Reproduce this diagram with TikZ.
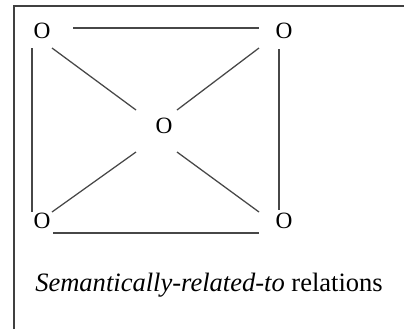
\documentclass[tikz,border=0pt]{standalone}
\usepackage{fontspec}
\setmainfont{Liberation Serif}
\usetikzlibrary{calc}
\begin{document}
\begin{tikzpicture}[x=0.75pt,y=-0.75pt,
  obj/.style={inner sep=0pt,font=\fontsize{17.5}{21}\selectfont},
  captext/.style={inner sep=0pt,font=\fontsize{19.9}{23}\selectfont},
  rel/.style={draw=black!72,line width=0.95pt},
  frameline/.style={draw=black!75,line width=1.1pt}]
\useasboundingbox[fill=white] (0,0) rectangle (404,329);
\draw[frameline] (14,329) -- (14,6) -- (404,6);
\node[obj] (tl) at (42,31) {O};
\node[obj] (tr) at (284,31) {O};
\node[obj] (c) at (164,126) {O};
\node[obj] (bl) at (42,221) {O};
\node[obj] (br) at (284,221) {O};
\draw[rel] ($(tl)+(31,-3)$) -- ($(tr)+(-25,-3)$);
\draw[rel] ($(tl)+(-10,17)$) -- ($(bl)+(-10,-9)$);
\draw[rel] ($(tr)+(-5,18)$) -- ($(br)+(-5,-11)$);
\draw[rel] ($(bl)+(11,12)$) -- ($(br)+(-25,12)$);
\draw[rel] ($(tl)+(10,17)$) -- ($(c)+(-28,-16)$);
\draw[rel] ($(tr)+(-25,17)$) -- ($(c)+(13,-16)$);
\draw[rel] ($(c)+(-28,26)$) -- ($(bl)+(10,-9)$);
\draw[rel] ($(c)+(13,26)$) -- ($(br)+(-25,-9)$);
\node[captext,anchor=base west] (cap) at (35,291) {\textit{Semantically-related-to} relations};
\end{tikzpicture}
\end{document}
